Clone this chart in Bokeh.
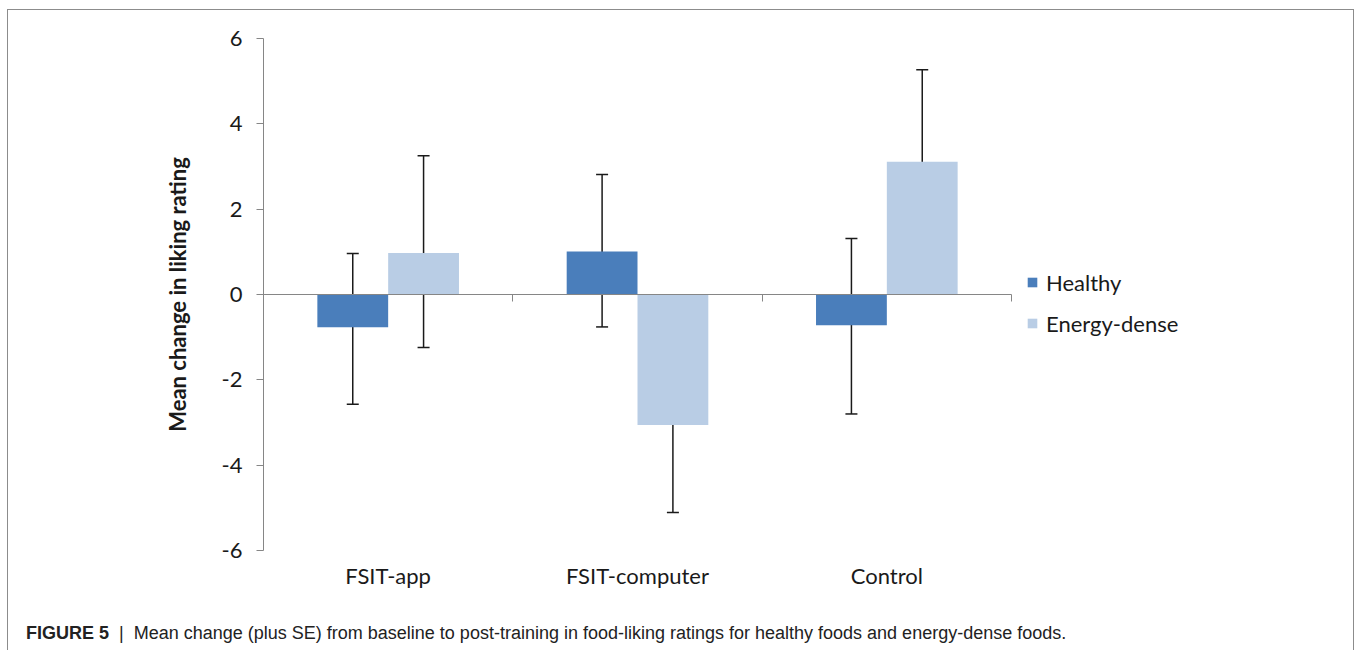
import numpy as np
from bokeh.plotting import figure
from bokeh.layouts import column
from bokeh.models import (ColumnDataSource, LinearAxis, FixedTicker, Whisker, TeeHead,
                          Legend, LegendItem, Range1d, Div)
from bokeh.embed import file_html
from bokeh.resources import INLINE

# ---------------- data ----------------
categories = ["FSIT-app", "FSIT-computer", "Control"]
series_names = ["Healthy", "Energy-dense"]
healthy = [-0.77, 1.01, -0.72]
healthy_upper = [0.96, 2.81, 1.31]
healthy_lower = [-2.57, -0.76, -2.80]
energy_dense = [0.97, -3.06, 3.11]
energy_upper = [3.25, -1.03, 5.27]
energy_lower = [-1.24, -5.11, 1.00]
y_ticks = [-6, -4, -2, 0, 2, 4, 6]
y_tick_labels = ["-6", "-4", "-2", "0", "2", "4", "6"]
y_label = "Mean change in liking rating"
caption_bold = "FIGURE 5"
caption_sep = "|"
caption_text = ("Mean change (plus SE) from baseline to post-training in food-liking "
                "ratings for healthy foods and energy-dense foods.")

# ---------------- styles / layout ----------------
HEALTHY_COLOR = "#4A7EBB"
ENERGY_COLOR = "#B9CDE5"
AXIS_COLOR = "#868686"
TEXT_COLOR = "#1a1a1a"
FONT = "Lato"
CAP_FONT = "Liberation Sans"

W, H = 1345, 600
BORDER_L, BORDER_T, BORDER_R, BORDER_B = 255, 28, 5, 60
BAR_AREA_W = 748            # pixel width of the three category slots
frame_w = W - BORDER_L - BORDER_R

n = len(categories)
centers = np.arange(n) + 0.5
bar_w = 0.284
x_end = n * frame_w / BAR_AREA_W   # extra room on the right holds the legend

p = figure(width=W, height=H, output_backend="svg", toolbar_location=None,
           x_range=Range1d(0, x_end), y_range=Range1d(-6, 6),
           x_axis_location=None,
           min_border_left=BORDER_L, min_border_top=BORDER_T,
           min_border_right=BORDER_R, min_border_bottom=BORDER_B,
           outline_line_color=None, background_fill_color="white",
           border_fill_color="white")
p.grid.visible = False

# y axis
yaxis = p.yaxis[0]
yaxis.ticker = FixedTicker(ticks=y_ticks, minor_ticks=[])
yaxis.major_label_overrides = dict(zip(y_ticks, y_tick_labels))
yaxis.axis_line_color = AXIS_COLOR
yaxis.major_tick_line_color = AXIS_COLOR
yaxis.major_tick_out = 7
yaxis.major_tick_in = 0
yaxis.minor_tick_line_color = None
yaxis.major_label_text_font = FONT
yaxis.major_label_text_font_size = "22px"
yaxis.major_label_text_color = TEXT_COLOR
yaxis.major_label_standoff = 14
yaxis.axis_label = y_label
yaxis.axis_label_text_font = FONT
yaxis.axis_label_text_font_style = "bold"
yaxis.axis_label_text_font_size = "22px"
yaxis.axis_label_text_color = TEXT_COLOR
yaxis.axis_label_standoff = 28

# category labels (low position)
cat_axis = LinearAxis(ticker=FixedTicker(ticks=list(centers), minor_ticks=[]),
                      major_label_overrides={float(c): lab for c, lab in zip(centers, categories)})
cat_axis.axis_line_color = None
cat_axis.major_tick_line_color = None
cat_axis.minor_tick_line_color = None
cat_axis.major_label_text_font = FONT
cat_axis.major_label_text_font_size = "22px"
cat_axis.major_label_text_color = TEXT_COLOR
cat_axis.major_label_standoff = 5
p.add_layout(cat_axis, "below")

# horizontal axis line at zero with category-boundary ticks
bounds = list(range(n + 1))
zero_axis = LinearAxis(ticker=FixedTicker(ticks=bounds, minor_ticks=[]), fixed_location=0,
                       bounds=(0, n), major_label_overrides={b: "" for b in bounds})
zero_axis.axis_line_color = AXIS_COLOR
zero_axis.major_tick_line_color = AXIS_COLOR
zero_axis.major_tick_out = 7
zero_axis.major_tick_in = 0
zero_axis.minor_tick_line_color = None
zero_axis.major_label_text_font_size = "1px"
p.add_layout(zero_axis, "below")

# bars
src_h = ColumnDataSource(dict(x=centers - bar_w / 2, top=healthy,
                              upper=healthy_upper, lower=healthy_lower))
src_e = ColumnDataSource(dict(x=centers + bar_w / 2, top=energy_dense,
                              upper=energy_upper, lower=energy_lower))
r_h = p.vbar(x="x", top="top", bottom=0, width=bar_w, source=src_h,
             fill_color=HEALTHY_COLOR, line_color=None)
r_e = p.vbar(x="x", top="top", bottom=0, width=bar_w, source=src_e,
             fill_color=ENERGY_COLOR, line_color=None)

# error bars
for src in (src_h, src_e):
    w = Whisker(source=src, base="x", upper="upper", lower="lower",
                line_color=TEXT_COLOR, line_width=1.5,
                upper_head=TeeHead(size=12, line_color=TEXT_COLOR, line_width=1.5),
                lower_head=TeeHead(size=12, line_color=TEXT_COLOR, line_width=1.5))
    p.add_layout(w)

# legend (just right of the bar area)
legend = Legend(items=[LegendItem(label=series_names[0], renderers=[r_h]),
                       LegendItem(label=series_names[1], renderers=[r_e])],
                location=(BAR_AREA_W + 15, 212), orientation="vertical",
                glyph_width=12, glyph_height=12, label_standoff=8,
                label_text_font=FONT, label_text_font_size="22px",
                label_text_color=TEXT_COLOR, label_height=30, spacing=11,
                padding=0, margin=0, border_line_color=None,
                background_fill_alpha=0)
p.add_layout(legend)

# caption
cap_html = (
    f'<div style="font-family:\'{CAP_FONT}\',Arial,sans-serif;font-size:18px;color:#222222;'
    f'white-space:nowrap;padding-left:18px;padding-top:11px;">'
    f'<b>{caption_bold}</b>&nbsp;&nbsp;{caption_sep}&nbsp;&nbsp;{caption_text}</div>'
)
cap = Div(text=cap_html, width=W, height=40, margin=0)

layout = column(p, cap, spacing=0, margin=(9, 0, 0, 7),
                styles={"border-top": "1px solid #8c8c8c",
                        "border-left": "1px solid #8c8c8c",
                        "border-right": "1px solid #8c8c8c"})

open("out.html", "w").write(file_html(layout, INLINE))
